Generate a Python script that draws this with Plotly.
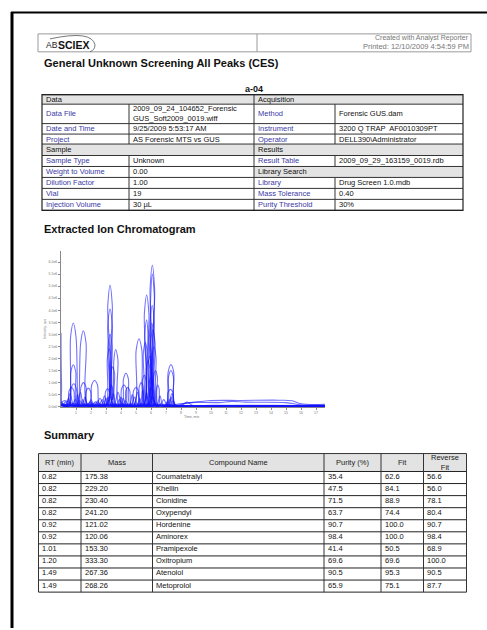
import plotly.graph_objects as go

# ---------------- data ----------------
# Extracted ion chromatogram traces: time (min) and intensity (x1e6 cps)
xic01_t = [0.00, 0.40, 1.60, 3.00, 3.12, 3.27, 3.42, 3.54, 4.70, 5.81, 5.94, 6.09, 6.24, 6.37, 7.40, 9.00, 13.00, 17.60]
xic01_i = [0.05, 0.03, 0.04, 0.02, 4.20, 5.04, 4.20, 0.02, 0.04, 0.02, 4.90, 5.87, 4.90, 0.02, 0.03, 0.03, 0.03, 0.03]
xic02_t = [0.00, 0.50, 1.80, 3.00, 3.12, 3.27, 3.42, 3.54, 4.60, 5.44, 5.56, 5.71, 5.86, 5.98, 7.20, 9.50, 14.00, 17.60]
xic02_i = [0.04, 0.03, 0.03, 0.02, 3.38, 4.05, 3.38, 0.02, 0.03, 0.02, 3.87, 4.63, 3.87, 0.02, 0.03, 0.03, 0.04, 0.03]
xic03_t = [0.00, 0.20, 0.49, 0.64, 0.82, 1.00, 1.15, 1.17, 1.31, 1.49, 1.67, 1.81, 2.80, 4.50, 6.50, 8.00, 12.00, 17.60]
xic03_i = [0.10, 0.04, 0.02, 2.90, 3.47, 2.90, 0.02, 0.02, 2.63, 3.15, 2.63, 0.02, 0.04, 0.03, 0.04, 0.03, 0.04, 0.03]
xic04_t = [0.00, 0.04, 0.12, 0.60, 2.00, 3.80, 5.75, 5.89, 6.05, 6.21, 6.35, 7.50, 10.00, 17.60]
xic04_i = [3.06, 0.90, 0.06, 0.04, 0.05, 0.04, 0.02, 2.89, 3.46, 2.89, 0.02, 0.03, 0.04, 0.03]
xic05_t = [0.00, 1.00, 2.50, 4.00, 4.85, 5.01, 5.20, 5.39, 5.55, 5.85, 5.97, 6.12, 6.27, 6.39, 7.50, 11.00, 17.60]
xic05_i = [0.05, 0.04, 0.05, 0.04, 0.02, 2.35, 2.82, 2.35, 0.03, 0.02, 2.66, 3.18, 2.66, 0.02, 0.03, 0.03, 0.03]
xic06_t = [0.00, 1.20, 2.40, 2.97, 3.09, 3.22, 3.34, 3.43, 3.45, 3.53, 3.64, 3.79, 3.92, 5.00, 6.80, 9.00, 17.60]
xic06_i = [0.05, 0.04, 0.04, 0.02, 2.00, 2.40, 2.00, 0.30, 0.30, 1.98, 2.37, 1.98, 0.02, 0.04, 0.04, 0.03, 0.03]
xic07_t = [0.00, 1.50, 3.00, 4.50, 5.37, 5.49, 5.62, 5.75, 5.87, 6.60, 7.00, 7.15, 7.33, 7.51, 7.66, 9.00, 17.60]
xic07_i = [0.04, 0.05, 0.04, 0.05, 0.02, 2.23, 2.67, 2.23, 0.02, 0.04, 0.02, 1.46, 1.75, 1.46, 0.02, 0.03, 0.03]
xic08_t = [0.00, 0.52, 0.66, 0.82, 0.98, 1.12, 2.50, 4.00, 5.50, 7.03, 7.17, 7.33, 7.49, 7.63, 9.00, 17.60]
xic08_i = [0.06, 0.02, 1.45, 1.74, 1.45, 0.02, 0.05, 0.04, 0.05, 0.02, 1.25, 1.50, 1.25, 0.02, 0.03, 0.02]
xic09_t = [0.00, 1.00, 1.89, 2.05, 2.24, 2.43, 2.59, 3.20, 4.03, 4.17, 4.33, 4.49, 4.63, 5.80, 7.50, 17.60]
xic09_i = [0.05, 0.05, 0.02, 0.91, 1.09, 0.91, 0.02, 0.05, 0.02, 1.16, 1.39, 1.16, 0.02, 0.05, 0.03, 0.03]
xic10_t = [0.00, 1.50, 3.23, 3.33, 3.45, 3.57, 3.67, 4.80, 5.70, 5.80, 5.92, 6.04, 6.14, 7.50, 17.60]
xic10_i = [0.04, 0.04, 0.02, 1.38, 1.65, 1.38, 0.02, 0.05, 0.02, 1.75, 2.10, 1.75, 0.02, 0.03, 0.02]
xic11_t = [0.00, 0.55, 0.69, 0.85, 1.01, 1.15, 1.20, 1.34, 1.50, 1.66, 1.80, 3.00, 5.30, 5.42, 5.55, 5.68, 5.80, 7.00, 7.14, 7.30, 7.46, 7.60, 10.00, 17.60]
xic11_i = [0.05, 0.02, 0.79, 0.95, 0.79, 0.03, 0.03, 0.83, 1.00, 0.83, 0.02, 0.05, 0.02, 1.08, 1.30, 1.08, 0.02, 0.02, 0.60, 0.72, 0.60, 0.02, 0.03, 0.03]
xic12_t = [0.00, 1.00, 1.54, 1.67, 1.82, 1.97, 2.10, 2.85, 2.97, 3.10, 3.23, 3.35, 3.90, 4.04, 4.20, 4.36, 4.50, 6.08, 6.18, 6.30, 6.42, 6.52, 8.00, 17.60]
xic12_i = [0.04, 0.05, 0.02, 0.64, 0.77, 0.64, 0.02, 0.02, 0.62, 0.75, 0.62, 0.02, 0.02, 0.75, 0.90, 0.75, 0.02, 0.02, 1.25, 1.50, 1.25, 0.02, 0.03, 0.02]
xic13_t = [0.00, 0.40, 0.54, 0.70, 0.86, 1.00, 2.30, 2.60, 2.90, 3.50, 3.80, 4.10, 4.70, 4.84, 5.00, 5.16, 5.30, 5.58, 5.68, 5.80, 5.92, 6.02, 7.10, 7.40, 7.70, 17.60]
xic13_i = [0.05, 0.02, 0.66, 0.80, 0.66, 0.02, 0.02, 0.35, 0.02, 0.02, 0.60, 0.02, 0.02, 0.66, 0.80, 0.66, 0.02, 0.02, 1.58, 1.90, 1.58, 0.02, 0.02, 0.55, 0.02, 0.02]
xic14_t = [0.00, 0.35, 0.60, 0.85, 1.05, 1.30, 1.55, 2.65, 2.90, 3.15, 4.20, 4.32, 4.45, 4.58, 4.70, 5.10, 5.22, 5.35, 5.48, 5.60, 5.95, 6.07, 6.20, 6.33, 6.45, 7.15, 7.35, 7.55, 17.60]
xic14_i = [0.06, 0.02, 0.55, 0.02, 0.02, 0.60, 0.02, 0.02, 0.45, 0.02, 0.02, 0.66, 0.80, 0.66, 0.02, 0.02, 0.83, 1.00, 0.83, 0.02, 0.02, 2.08, 2.50, 2.08, 0.02, 0.02, 0.40, 0.02, 0.02]
xic15_t = [0.00, 0.10, 0.30, 0.50, 0.90, 1.10, 1.30, 1.80, 2.00, 2.20, 2.80, 3.00, 3.20, 3.80, 4.00, 4.20, 4.85, 5.10, 5.35, 5.80, 5.89, 6.00, 6.11, 6.20, 7.05, 7.25, 7.45, 17.60]
xic15_i = [0.08, 0.05, 0.20, 0.05, 0.05, 0.50, 0.05, 0.05, 0.30, 0.05, 0.05, 0.35, 0.05, 0.05, 0.40, 0.05, 0.05, 0.60, 0.05, 0.05, 1.00, 1.20, 1.00, 0.05, 0.05, 0.30, 0.03, 0.02]
xic16_t = [0.00, 0.30, 0.50, 0.70, 1.40, 1.60, 1.80, 2.25, 2.45, 2.65, 3.30, 3.50, 3.70, 4.55, 4.75, 4.95, 5.25, 5.45, 5.65, 6.25, 6.36, 6.45, 6.54, 6.65, 7.25, 7.45, 7.65, 17.60]
xic16_i = [0.10, 0.06, 0.35, 0.06, 0.06, 0.40, 0.06, 0.06, 0.25, 0.06, 0.06, 0.55, 0.06, 0.06, 0.50, 0.06, 0.06, 0.70, 0.06, 0.06, 0.75, 0.90, 0.75, 0.06, 0.06, 0.25, 0.03, 0.02]
xic17_t = [0.00, 0.75, 0.95, 1.15, 1.75, 1.95, 2.15, 2.55, 2.75, 2.95, 3.15, 3.26, 3.35, 3.44, 3.55, 3.95, 4.15, 4.35, 5.50, 5.70, 5.90, 6.40, 6.60, 6.80, 7.60, 17.60]
xic17_i = [0.12, 0.08, 0.30, 0.08, 0.08, 0.20, 0.08, 0.08, 0.30, 0.08, 0.08, 0.75, 0.90, 0.75, 0.08, 0.08, 0.35, 0.08, 0.08, 0.60, 0.08, 0.08, 0.45, 0.08, 0.03, 0.02]
xic18_t = [0.00, 0.20, 1.05, 1.25, 1.45, 2.10, 2.30, 2.50, 3.70, 3.90, 4.10, 4.70, 4.90, 5.10, 5.75, 5.95, 6.15, 6.65, 6.85, 7.05, 7.70, 17.60]
xic18_i = [0.15, 0.25, 0.10, 0.25, 0.10, 0.10, 0.20, 0.10, 0.10, 0.30, 0.10, 0.10, 0.40, 0.10, 0.10, 0.80, 0.10, 0.10, 0.30, 0.10, 0.03, 0.02]
xic19_t = [0.00, 0.35, 0.55, 0.75, 1.25, 1.45, 1.65, 2.95, 3.15, 3.35, 4.10, 4.30, 4.50, 5.05, 5.25, 5.45, 5.95, 6.15, 6.35, 6.90, 7.10, 7.30, 7.70, 17.60]
xic19_i = [0.20, 0.04, 0.15, 0.04, 0.04, 0.30, 0.04, 0.04, 0.40, 0.04, 0.04, 0.25, 0.04, 0.04, 0.35, 0.04, 0.04, 0.70, 0.04, 0.04, 0.20, 0.04, 0.02, 0.02]
xic20_t = [0.00, 1.00, 2.00, 3.02, 3.13, 3.27, 3.41, 3.52, 4.50, 5.83, 5.94, 6.08, 6.22, 6.33, 7.50, 17.60]
xic20_i = [0.05, 0.04, 0.05, 0.03, 2.50, 3.00, 2.50, 0.03, 0.05, 0.03, 3.50, 4.20, 3.50, 0.03, 0.03, 0.02]
xic21_t = [0.00, 1.20, 2.60, 4.00, 5.46, 5.58, 5.71, 5.82, 5.89, 5.91, 5.97, 6.09, 6.22, 6.36, 7.60, 17.60]
xic21_i = [0.04, 0.05, 0.04, 0.05, 0.03, 3.00, 3.60, 2.80, 0.40, 0.40, 4.40, 5.50, 4.60, 0.03, 0.03, 0.02]
xic22_t = [0.00, 2.00, 4.00, 6.00, 7.50, 7.90, 8.80, 9.80, 12.00, 14.50, 15.40, 16.00, 17.60]
xic22_i = [0.10, 0.12, 0.10, 0.12, 0.08, 0.12, 0.18, 0.25, 0.26, 0.27, 0.25, 0.12, 0.10]
xic23_t = [0.00, 2.50, 5.00, 7.40, 7.90, 8.60, 10.50, 11.40, 12.30, 15.00, 16.00, 17.60]
xic23_i = [0.08, 0.09, 0.10, 0.06, 0.08, 0.17, 0.17, 0.22, 0.19, 0.17, 0.08, 0.07]
xic24_t = [0.00, 3.00, 6.00, 7.60, 8.00, 8.40, 8.80, 10.00, 13.00, 16.00, 17.60]
xic24_i = [0.06, 0.07, 0.06, 0.03, 0.05, 0.19, 0.05, 0.06, 0.06, 0.05, 0.04]

x_tick_values = list(range(1, 18))
x_tick_labels = [str(v) for v in range(1, 18)]
y_tick_values = [0.0, 0.5, 1.0, 1.5, 2.0, 2.5, 3.0, 3.5, 4.0, 4.5, 5.0, 5.5, 6.0]
y_tick_labels = ["0.0e0", "5.0e5", "1.0e6", "1.5e6", "2.0e6", "2.5e6", "3.0e6",
                 "3.5e6", "4.0e6", "4.5e6", "5.0e6", "5.5e6", "6.0e6"]

# Sample information table (label, value); value None = section header
info_left = [("Data", None),
             ("Data File", "2009_09_24_104652_Forensic<br>GUS_Soft2009_0019.wiff"),
             ("Date and Time", "9/25/2009 5:53:17 AM"),
             ("Project", "AS Forensic MTS vs GUS"),
             ("Sample", None),
             ("Sample Type", "Unknown"),
             ("Weight to Volume", "0.00"),
             ("Dilution Factor", "1.00"),
             ("Vial", "19"),
             ("Injection Volume", "30 µL")]
info_right = [("Acquisition", None),
              ("Method", "Forensic GUS.dam"),
              ("Instrument", "3200 Q TRAP  AF0010309PT"),
              ("Operator", "DELL390\\Administrator"),
              ("Results", None),
              ("Result Table", "2009_09_29_163159_0019.rdb"),
              ("Library Search", None),
              ("Library", "Drug Screen 1.0.mdb"),
              ("Mass Tolerance", "0.40"),
              ("Purity Threshold", "30%")]

# Summary table
summary_headers = ["RT (min)", "Mass", "Compound Name", "Purity (%)", "Fit", "Reverse<br>Fit"]
rt_min = ["0.82", "0.82", "0.82", "0.82", "0.92", "0.92", "1.01", "1.20", "1.49", "1.49"]
mass = ["175.38", "229.20", "230.40", "241.20", "121.02", "120.06", "153.30", "333.30", "267.36", "268.26"]
compound = ["Coumatetralyl", "Khellin", "Clonidine", "Oxypendyl", "Hordenine",
            "Aminorex", "Pramipexole", "Oxitropium", "Atenolol", "Metoprolol"]
purity = [35.4, 47.5, 71.5, 63.7, 90.7, 98.4, 41.4, 69.6, 90.5, 65.9]
fit = [62.6, 84.1, 88.9, 74.4, 100.0, 100.0, 50.5, 69.6, 95.3, 75.1]
reverse_fit = [56.6, 56.0, 78.1, 80.4, 90.7, 98.4, 68.9, 100.0, 90.5, 87.7]

# ---------------- layout helpers ----------------
W, H = 487, 630
FONT = "Liberation Sans, Arial, sans-serif"


def px(x):
    return x / W


def py(y):
    return 1 - y / H


shapes = []
annotations = []


def rect(x0, y0, x1, y1, line="#444", width=1, fill=None):
    d = dict(type="rect", xref="paper", yref="paper", x0=px(x0), x1=px(x1),
             y0=py(y1), y1=py(y0), line=dict(color=line, width=width), layer="below")
    if fill:
        d["fillcolor"] = fill
    if width == 0:
        d["line"] = dict(width=0)
    shapes.append(d)


def hline(x0, x1, y, color="#444", width=1):
    shapes.append(dict(type="line", xref="paper", yref="paper", x0=px(x0), x1=px(x1),
                       y0=py(y), y1=py(y), line=dict(color=color, width=width)))


def vline(x, y0, y1, color="#444", width=1):
    shapes.append(dict(type="line", xref="paper", yref="paper", x0=px(x), x1=px(x),
                       y0=py(y0), y1=py(y1), line=dict(color=color, width=width)))


def text(x, y, s, size=7.5, color="#000", xanchor="left", family=FONT, angle=0):
    annotations.append(dict(x=px(x), y=py(y), xref="paper", yref="paper", text=s,
                            showarrow=False, xanchor=xanchor, yanchor="middle",
                            font=dict(size=size, color=color, family=family),
                            align="left" if xanchor == "left" else ("right" if xanchor == "right" else "center"),
                            textangle=angle, borderpad=0))


fig = go.Figure()

# ---------------- chromatogram ----------------
traces = [(xic01_t, xic01_i), (xic02_t, xic02_i), (xic03_t, xic03_i), (xic04_t, xic04_i),
          (xic05_t, xic05_i), (xic06_t, xic06_i), (xic07_t, xic07_i), (xic08_t, xic08_i),
          (xic09_t, xic09_i), (xic10_t, xic10_i), (xic11_t, xic11_i), (xic12_t, xic12_i),
          (xic13_t, xic13_i), (xic14_t, xic14_i), (xic15_t, xic15_i), (xic16_t, xic16_i),
          (xic17_t, xic17_i), (xic18_t, xic18_i), (xic19_t, xic19_i), (xic20_t, xic20_i),
          (xic21_t, xic21_i), (xic22_t, xic22_i), (xic23_t, xic23_i), (xic24_t, xic24_i)]
for t, i in traces:
    fig.add_trace(go.Scatter(x=t, y=i, mode="lines",
                             line=dict(color="rgba(20,20,255,0.6)", width=1.1,
                                       shape="spline", smoothing=1.0),
                             hoverinfo="skip"))

fig.update_xaxes(domain=[px(61), px(325)], range=[0, 17.6], showline=True,
                 linecolor="#888", linewidth=1, ticks="outside", ticklen=2,
                 tickcolor="#888", tickvals=x_tick_values, ticktext=x_tick_labels,
                 tickfont=dict(size=3.5, color="#777", family=FONT),
                 showgrid=False, zeroline=False)
fig.update_yaxes(domain=[py(408), py(252)], range=[0, 6.45], showline=True,
                 linecolor="#888", linewidth=1, ticks="outside", ticklen=2,
                 tickcolor="#888", tickvals=y_tick_values, ticktext=y_tick_labels,
                 tickfont=dict(size=3.5, color="#777", family=FONT),
                 showgrid=False, zeroline=False)
text(191, 418.5, "Time, min", size=3.5, color="#777", xanchor="center")
text(45, 330, "Intensity, cps", size=3.5, color="#777", xanchor="center", angle=-90)

# ---------------- page frame & header ----------------
vline(12, 12, 630, color="#000", width=3)
hline(11, 487, 12.5, color="#000", width=2)

rect(38, 34, 471, 52, line="#9a9a9a", width=1)
vline(257, 34, 52, color="#9a9a9a")
text(45, 45.5, "AB", size=8.5, color="#222")
text(57, 45, "<b>SCIEX</b>", size=10.5, color="#111")
shapes.append(dict(type="path", xref="paper", yref="paper",
                   path=f"M {px(50)},{py(39)} Q {px(92)},{py(30)} {px(95)},{py(45)} Q {px(95)},{py(50)} {px(90)},{py(52)}",
                   line=dict(color="#555", width=0.8)))
text(470, 38, "Created with Analyst Reporter", size=7, color="#777", xanchor="right")
text(470, 46.5, "Printed: 12/10/2009 4:54:59 PM", size=7.5, color="#777", xanchor="right")

text(43, 63, "<b>General Unknown Screening All Peaks (CES)</b>", size=11, color="#111")
text(254, 89, "<b>a-04</b>", size=9, color="#111", xanchor="center")

# ---------------- info table ----------------
row_lines = [95, 104.5, 124, 134.5, 144.5, 156, 167, 178, 189, 200, 211]
tx0, tmid, tx1 = 42, 254, 463
halves = [(info_left, tx0, 129, tmid), (info_right, tmid, 335, tx1)]
for rows, xa, xdiv, xb in halves:
    for k, (lab, val) in enumerate(rows):
        y0, y1 = row_lines[k], row_lines[k + 1]
        yc = (y0 + y1) / 2
        if val is None:
            rect(xa, y0, xb, y1, width=0, fill="#e3e3e3")
            text(xa + 2.5, yc, lab, size=7.5, color="#111")
        else:
            vline(xdiv, y0, y1, color="#333")
            text(xa + 2.5, yc, lab, size=7.5, color="#3a3aa6")
            text(xdiv + 3, yc, val, size=7.5, color="#111")
for y in row_lines:
    hline(tx0, tx1, y, color="#333")
vline(tmid, row_lines[0], row_lines[-1], color="#333")
shapes.append(dict(type="rect", xref="paper", yref="paper", x0=px(tx0), x1=px(tx1),
                   y0=py(row_lines[-1]), y1=py(row_lines[0]),
                   line=dict(color="#222", width=1.2)))

# ---------------- section titles ----------------
text(43, 230, "<b>Extracted Ion Chromatogram</b>", size=11, color="#111")
text(43, 436, "<b>Summary</b>", size=11, color="#111")

# ---------------- summary table ----------------
col_lines = [38.5, 81, 152.5, 324, 381, 423.5, 466.5]
s_top, s_head = 455, 473
s_row_h = 12.1
n = len(compound)
s_bottom = s_head + n * s_row_h
rect(col_lines[0], s_top, col_lines[-1], s_head, width=0, fill="#e3e3e3")
for c, h in enumerate(summary_headers):
    xc = (col_lines[c] + col_lines[c + 1]) / 2
    text(xc, (s_top + s_head) / 2, h, size=7.5, color="#222", xanchor="center")
cells = [rt_min, mass, compound,
         [f"{v:.1f}" for v in purity], [f"{v:.1f}" for v in fit],
         [f"{v:.1f}" for v in reverse_fit]]
for r in range(n):
    yt = s_head + r * s_row_h
    for c in range(6):
        text(col_lines[c] + 2.5, yt + 5, cells[c][r], size=7.5, color="#111")
for r in range(n + 1):
    hline(col_lines[0], col_lines[-1], s_head + r * s_row_h, color="#222")
for x in col_lines:
    vline(x, s_top, s_bottom, color="#333")
hline(col_lines[0], col_lines[-1], s_top, color="#333")

fig.update_layout(width=W, height=H, margin=dict(l=0, r=0, t=0, b=0),
                  paper_bgcolor="white", plot_bgcolor="white", showlegend=False,
                  shapes=shapes, annotations=annotations)
fig.write_html("out.html", config={"displayModeBar": False, "staticPlot": True},
               post_script="document.body.style.margin='0';document.body.style.overflow='hidden';")
